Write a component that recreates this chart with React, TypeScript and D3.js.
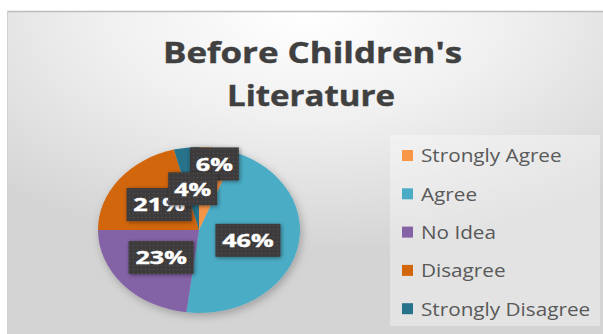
import React from "react";
import * as d3 from "d3";

const categories = ["Strongly Agree", "Agree", "No Idea", "Disagree", "Strongly Disagree"];
const values = [6, 46, 23, 21, 4];
const valueLabels = ["6%", "46%", "23%", "21%", "4%"];
const titleLines = ["Before Children's", "Literature"];

const colors = ["#F79646", "#4BACC6", "#8462A6", "#D2660B", "#27738B"];
const labelRadiusFrac = [0.81, 0.5, 0.5, 0.5, 0.5];

const W = 603;
const H = 334;
const cx = 199;
const cy = 230;
const rx = 101;
const ry = 83;

export default function App() {
  const pie = d3.pie<number>().sort(null).value((d) => d);
  const arcs = pie(values);
  const arc = d3.arc<d3.PieArcDatum<number>>().innerRadius(0).outerRadius(ry);

  const legendX = 402;
  const legendY0 = 155.5;
  const legendStep = 38.3;

  return (
    <svg width={W} height={H} style={{ position: "absolute", left: 0, top: 0 }} fontFamily="'Open Sans', Lato, sans-serif">
      <defs>
        <radialGradient id="bg" cx="50%" cy="0%" r="75%" fx="50%" fy="0%">
          <stop offset="0%" stopColor="#ffffff" />
          <stop offset="45%" stopColor="#f0f0f0" />
          <stop offset="100%" stopColor="#d4d4d4" />
        </radialGradient>
        <pattern id="dots" width="4" height="4" patternUnits="userSpaceOnUse">
          <rect width="4" height="4" fill="#3c3a3a" />
          <rect x="1" y="1" width="1" height="1" fill="#5a5656" />
        </pattern>
        <filter id="pieShadow" x="-20%" y="-20%" width="140%" height="140%">
          <feDropShadow dx="2" dy="3" stdDeviation="4" floodColor="#000" floodOpacity="0.25" />
        </filter>
        <filter id="boxShadow" x="-30%" y="-30%" width="160%" height="160%">
          <feDropShadow dx="1" dy="1" stdDeviation="2" floodColor="#000" floodOpacity="0.45" />
        </filter>
      </defs>
      <rect x={0} y={0} width={W} height={H} fill="#ffffff" />
      <rect x={7} y={11} width={W - 7} height={H - 11} fill="url(#bg)" />
      <line x1={7} y1={11.5} x2={W} y2={11.5} stroke="#bdbdbd" strokeWidth={1.5} />
      <line x1={7.5} y1={11} x2={7.5} y2={H} stroke="#cfcfcf" strokeWidth={1} />

      {/* Title */}
      {titleLines.map((t, i) => (
        <text
          key={t}
          x={i === 0 ? 163 : 227}
          y={i === 0 ? 63 : 106}
          textLength={i === 0 ? 299 : 168}
          lengthAdjust="spacingAndGlyphs"
          fontSize={28}
          fontWeight={700}
          fill="#404040"
          stroke="#404040"
          strokeWidth={0.4}
        >
          {t}
        </text>
      ))}

      {/* Pie */}
      <g filter="url(#pieShadow)">
        <g transform={`translate(${cx},${cy}) scale(${rx / ry},1)`}>
          {arcs.map((a, i) => (
            <path key={categories[i]} d={arc(a) || ""} fill={colors[i]} />
          ))}
        </g>
      </g>

      {/* Data labels */}
      {arcs.map((a, i) => {
        const mid = (a.startAngle + a.endAngle) / 2;
        const f = labelRadiusFrac[i];
        const lx = cx + Math.sin(mid) * f * rx;
        const ly = cy - Math.cos(mid) * f * ry;
        const txt = valueLabels[i];
        const bw = 16 * txt.length + 17;
        const bh = 33;
        return (
          <g key={"lbl" + i}>
            <rect x={lx - bw / 2} y={ly - bh / 2} width={bw} height={bh} fill="url(#dots)" filter="url(#boxShadow)" />
            <text
              transform={`translate(${lx},${ly + 6.8}) scale(1.4,1)`}
              textAnchor="middle"
              fontSize={18}
              fontWeight={700}
              fill="#ffffff"
              stroke="#ffffff"
              strokeWidth={0.4}
            >
              {txt}
            </text>
          </g>
        );
      })}

      {/* Legend */}
      <rect x={390} y={135} width={210} height={191} fill="#ffffff" fillOpacity={0.35} />
      {categories.map((c, i) => {
        const y = legendY0 + i * legendStep;
        return (
          <g key={"leg" + c}>
            <rect x={legendX} y={y - 5.5} width={11} height={11} fill={colors[i]} />
            <text transform={`translate(${legendX + 19},${y + 6.8}) scale(1.12,1)`} fontSize={18.5} fill="#595959">
              {c}
            </text>
          </g>
        );
      })}
    </svg>
  );
}
